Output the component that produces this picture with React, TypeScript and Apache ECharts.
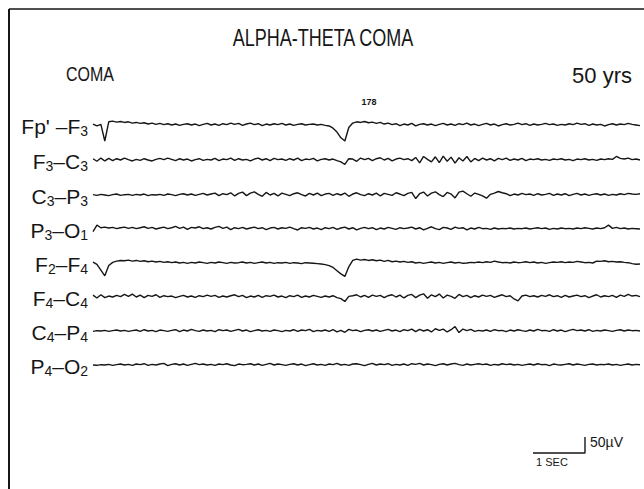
import { useEffect, useRef } from "react";
import * as echarts from "echarts";

// ---- texts ----
const titleText = "ALPHA-THETA COMA";
const stateText = "COMA";
const ageText = "50 yrs";
const pageMark = "178";
const channelNames = ["Fp' –F3", "F3–C3", "C3–P3", "P3–O1", "F2–F4", "F4–C4", "C4–P4", "P4–O2"];
const calTimeLabel = "1 SEC";
const calAmpLabel = "50µV";

// ---- traces (µV, evenly sampled over the page width) ----
const fp1F3 = [
  3, -3, 2, -50, 10, 12, 9, 11, 8, 10,
  6, 8, 5, 7, 3, 6, 2, 5, 1, 4,
  0, 3, -1, 2, 4, 0, 3, -2, 2, 5,
  0, 3, -1, 4, 1, 6, 2, 5, -1, 3,
  6, 1, 4, -2, 3, 0, 4, 1, 5, 0,
  3, -1, 2, 4, 0, 2, 3, 0, 2, -1,
  -3, -10, -22, -40, -50, -8, 6, 10, 8, 11,
  7, 9, 5, 8, 3, 6, 1, 4, -2, 3,
  0, 5, -3, 2, 4, 0, 3, -2, 2, 5,
  0, 3, -1, 4, 1, 6, 0, 3, -2, 2,
  5, 0, 3, -3, 1, 4, 0, 2, 6, 1,
  4, -1, 3, 0, 2, 5, 1, 3, -1, 2,
  0, 4, 1, 6, 2, 4, -1, 3, 0, 2,
  -3, 1, 4, 0, 3, 1, 5, 2, 0, -2,
];
const f3C3 = [
  4, -4, 6, -3, 5, -2, 4, 0, 6, 1,
  -3, 2, -1, 4, 0, -3, 2, 5, 1, 6,
  2, -2, 4, 0, 3, -3, 1, 4, -1, 2,
  0, 5, -2, 3, 1, 6, -1, 4, 0, 2,
  -3, 3, 6, 0, 4, -2, 5, 1, 3, -1,
  4, 0, 6, -2, 3, 1, 5, -3, 2, 4,
  0, 3, -2, -6, -14, 4, 3, -4, 6, 1,
  5, -2, 4, 7, 0, 5, -3, 3, 6, 1,
  4, -2, 8, -9, 11, 2, -6, 10, -8, 12,
  -4, 9, -10, 7, -3, 11, -6, 5, -2, 6,
  0, 4, -3, 5, 1, 6, -1, 3, 0, 5,
  -2, 3, 1, 4, 0, 2, -1, 3, 1, 4,
  0, 2, -2, 3, 1, 4, 0, 2, -1, 3,
  1, 4, 2, 11, 5, 3, 6, 1, 3, 0,
];
const c3P3 = [
  1, -1, 2, 0, -2, 1, 3, -1, 1, 2,
  -1, 2, 0, 3, -2, 1, 0, 2, -1, 3,
  1, -2, 2, 4, 0, 3, -1, 2, 5, 0,
  3, 6, -2, 4, 1, 7, -3, 5, 9, -2,
  6, 10, 2, -4, 8, 0, 5, -3, 6, 2,
  -2, 4, 7, 1, -3, 5, 0, 6, -2, 3,
  5, -1, 4, 0, 6, -4, 3, 7, 1, -2,
  4, 0, 6, -3, 5, 2, -1, 7, 3, -2,
  5, 8, -11, 4, 9, -3, 6, 10, 1, -5,
  8, 3, -9, 9, 12, 4, -4, 6, 2, -3,
  -10, 2, 6, 11, 7, 4, -2, 3, 0, 5,
  1, 3, -1, 4, 0, 2, 5, -1, 3, 0,
  4, -2, 2, 5, 0, 3, -1, 2, 4, 0,
  3, -1, 2, 0, 4, 1, 5, 3, 2, 4,
];
const p3O1 = [
  -8, 12, 4, 6, 3, 5, 1, 4, 6, 2,
  5, 1, 4, 7, 2, 5, 0, 3, 6, 1,
  4, 8, 2, 6, -1, 5, 3, 7, 1, 4,
  0, 5, 8, 2, 6, -2, 4, 1, 5, 0,
  3, 6, 1, 4, -2, 3, 5, 0, 4, 2,
  6, 1, -3, 4, 2, 5, 0, 3, -2, 4,
  1, 5, -1, 3, 6, 0, 4, -3, 2, 5,
  1, 4, -2, 3, 0, 5, 2, -1, 4, 1,
  3, 6, 0, 4, -3, 2, 7, 1, -2, 5,
  3, -1, 6, 2, 4, -3, 3, 0, 5, 1,
  2, -1, 3, 0, 2, 1, 3, 0, 2, 1,
  3, 0, 2, 4, 1, 3, -1, 2, 0, 3,
  1, 2, 0, 3, 1, 4, 2, 0, 3, 1,
  4, 12, 2, 5, 1, 3, 0, 2, 1, 0,
];
const f2F4 = [
  3, -4, -22, -40, -8, 2, 6, 8, 7, 9,
  6, 8, 5, 7, 4, 6, 3, 5, 2, 4,
  1, 3, 0, 2, -1, 2, 0, 3, 1, -1,
  2, 0, 3, 1, -1, 2, 0, 1, 3, 0,
  2, -1, 1, 3, 0, 2, -1, 1, 0, 2,
  -1, 1, 0, -2, 1, 0, -1, -2, -3, -5,
  -8, -14, -24, -34, -42, -12, 8, 12, 9, 11,
  8, 10, 7, 9, 5, 8, 4, 6, 3, 5,
  2, 4, 0, 2, -1, 1, 3, 0, 2, -1,
  1, 3, 0, 2, -1, 0, 2, 1, 3, 1,
  4, 2, 6, 3, 1, 2, 0, 3, 1, 2,
  4, 1, 3, 0, 2, -1, 1, 3, 2, 4,
  1, 3, 2, 5, 3, 1, 2, 0, 6, 5,
  7, 4, 5, 3, 4, 2, 1, -2, -4, -3,
];
const f4C4 = [
  6, -3, 7, -2, 3, 0, 5, 1, 8, 2,
  9, 0, 6, -2, 5, 2, 7, -1, 4, 1,
  3, -2, 2, 5, 0, 3, -1, 4, 1, 6,
  2, 5, -1, 3, 0, 4, 7, 1, 5, -2,
  3, 0, 5, -1, 4, 2, 6, 0, 3, -2,
  4, 1, 6, -1, 3, 0, 5, 2, -1, 3,
  0, 4, -2, -5, -14, 2, 4, 7, 0, 5,
  -1, 6, 2, 5, -2, 4, 7, 0, 6, -3,
  5, 8, -2, 6, 10, -4, 7, 1, 9, -3,
  6, 2, -4, 8, 1, 5, -2, 4, 0, 6,
  2, 5, -1, 3, 7, 1, 4, -6, -12, 3,
  6, 1, 4, 0, 5, 2, 7, 1, 4, -1,
  5, 0, 3, 6, 1, 4, -2, 3, 7, 0,
  4, 1, 5, -1, 6, 2, 8, 3, 5, 1,
];
const c4P4 = [
  -1, 1, 0, 2, -1, 1, 3, 0, 2, -1,
  1, 3, -1, 4, 0, 2, -2, 3, 1, -1,
  2, 4, -2, 3, 0, 5, 1, -1, 3, 0,
  2, -2, 4, 1, 3, -1, 2, 5, 0, 3,
  -2, 1, 4, 0, 2, -1, 3, 1, -2, 2,
  0, 4, -1, 3, 1, 5, -2, 2, 0, 3,
  -1, 4, -3, 2, -4, 5, 1, 3, -2, 2,
  4, 0, 3, -1, 2, 5, 0, 3, -2, 4,
  1, 6, -2, 5, 0, 4, -3, 7, 2, 6,
  -3, 4, 14, -5, 6, 1, 5, -1, 2, 0,
  3, -1, 4, 1, 2, -2, 3, 0, 4, 1,
  -1, 3, 0, 5, 1, 2, -1, 4, 0, 3,
  -2, 2, 5, 1, 3, 0, 4, -1, 2, 0,
  3, 1, -1, 2, 4, 0, 3, 1, 2, 0,
];
const p4O2 = [
  0, -1, 1, 0, 2, -1, 1, 3, 0, 2,
  -1, 3, 1, 4, -1, 2, 0, 3, 5, -2,
  2, 4, 0, 3, -1, 2, 5, 1, 3, 0,
  2, -1, 3, 1, 4, 0, -2, 3, 1, 2,
  4, 0, 3, -1, 2, 5, 0, 3, 1, -1,
  2, 4, 0, 3, -2, 1, 4, 0, 2, -1,
  3, 1, 5, 0, 2, -1, 3, 4, 1, -2,
  2, 5, 0, 3, 1, 4, -1, 2, 0, 3,
  -1, 4, 2, 5, 0, 3, 1, -2, 2, 4,
  0, 3, 5, 1, -1, 3, 0, 2, 4, 1,
  3, -1, 2, 0, 4, 1, 3, 0, 2, -1,
  1, 3, 0, 4, 1, 2, -2, 3, 1, 0,
  2, 4, 0, 3, 1, -1, 2, 3, 0, 2,
  1, 3, 0, 2, -1, 1, 3, 0, 2, 1,
];
const traces = [fp1F3, f3C3, c3P3, p3O1, f2F4, f4C4, c4P4, p4O2];

// calibration mark: 1 s horizontal, 50 µV vertical
const calTimes = [0, 1, 1];
const calValues = [0, 0, 50];

// ---- layout / scale ----
const PX_PER_SEC = 52;
const UV_PER_PX = 3.125;
const TRACE_LEFT = 93;
const TRACE_RIGHT = 4;
const DURATION = (644 - TRACE_LEFT - TRACE_RIGHT) / PX_PER_SEC;
const ROW_CENTERS = [125, 160, 195, 229, 263, 297, 331, 365];
const ROW_H = 34;
const INK = "#161616";
const FONT = "Liberation Sans, Arial, sans-serif";

function toRich(name: string) {
  const s = "{m|" + name.replace(/(\d)/g, "}{s|$1}{m|") + "}";
  return s.replace(/\{m\|\}/g, "");
}

export default function App() {
  const ref = useRef<HTMLDivElement>(null);
  useEffect(() => {
    if (!ref.current) return;
    const chart = echarts.init(ref.current, null, { renderer: "svg" });
    const yHalf = (ROW_H / 2) * UV_PER_PX;
    const grids: any[] = [];
    const xAxes: any[] = [];
    const yAxes: any[] = [];
    const series: any[] = [];
    traces.forEach((tr, i) => {
      grids.push({ left: TRACE_LEFT, right: TRACE_RIGHT, top: ROW_CENTERS[i] - ROW_H / 2, height: ROW_H });
      xAxes.push({ type: "value", gridIndex: i, min: 0, max: DURATION, show: false });
      yAxes.push({ type: "value", gridIndex: i, min: -yHalf, max: yHalf, show: false });
      const dt = DURATION / (tr.length - 1);
      series.push({
        type: "line",
        name: channelNames[i],
        xAxisIndex: i,
        yAxisIndex: i,
        data: tr.map((v, k) => [k * dt, v]),
        showSymbol: false,
        clip: false,
        silent: true,
        lineStyle: { color: INK, width: 1.4 },
      });
    });
    // calibration grid (1 s x 50 µV)
    const ci = traces.length;
    grids.push({ left: 533, width: PX_PER_SEC, top: 453 - 50 / UV_PER_PX, height: 50 / UV_PER_PX });
    xAxes.push({ type: "value", gridIndex: ci, min: 0, max: 1, show: false });
    yAxes.push({ type: "value", gridIndex: ci, min: 0, max: 50, show: false });
    series.push({
      type: "line",
      xAxisIndex: ci,
      yAxisIndex: ci,
      data: calTimes.map((t, k) => [t, calValues[k]]),
      showSymbol: false,
      clip: false,
      silent: true,
      lineStyle: { color: INK, width: 1.4 },
    });

    const graphics: any[] = [
      { type: "line", shape: { x1: 9, y1: 9, x2: 9, y2: 489 }, style: { stroke: INK, lineWidth: 2 } },
      { type: "line", shape: { x1: 9, y1: 9, x2: 644, y2: 9 }, style: { stroke: INK, lineWidth: 1.5 } },
      { type: "text", x: 323, y: 38, scaleY: 1.3, style: { text: titleText, fontSize: 18, fontFamily: FONT, fill: INK, align: "center", verticalAlign: "middle" } },
      { type: "text", x: 90, y: 74, scaleY: 1.3, style: { text: stateText, fontSize: 16, fontFamily: FONT, fill: INK, align: "center", verticalAlign: "middle" } },
      { type: "text", x: 632, y: 75, style: { text: ageText, fontSize: 22, fontFamily: FONT, fill: INK, align: "right", verticalAlign: "middle" } },
      { type: "text", x: 369, y: 102, style: { text: pageMark, fontSize: 9, fontWeight: "bold", fontFamily: FONT, fill: INK, align: "center", verticalAlign: "middle" } },
      { type: "text", x: 590, y: 442, style: { text: calAmpLabel, fontSize: 14, fontFamily: FONT, fill: INK, align: "left", verticalAlign: "middle" } },
      { type: "text", x: 552, y: 462, style: { text: calTimeLabel, fontSize: 11, fontFamily: FONT, fill: INK, align: "center", verticalAlign: "middle" } },
    ];
    channelNames.forEach((n, i) => {
      graphics.push({
        type: "text",
        x: 88,
        y: ROW_CENTERS[i] + 1,
        style: {
          text: toRich(n),
          fontFamily: FONT,
          fill: INK,
          align: "right",
          verticalAlign: "middle",
          rich: {
            m: { fontSize: 21, lineHeight: 24, fontFamily: FONT, color: INK },
            s: { fontSize: 14, lineHeight: 13, verticalAlign: "bottom", fontFamily: FONT, color: INK },
          },
        },
      });
    });

    chart.setOption({
      animation: false,
      backgroundColor: "#ffffff",
      grid: grids,
      xAxis: xAxes,
      yAxis: yAxes,
      series,
      graphic: graphics,
    });
    return () => chart.dispose();
  }, []);
  return (
    <div
      ref={ref}
      style={{ position: "fixed", left: 0, top: 0, width: 644, height: 489, background: "#fff" }}
    />
  );
}
